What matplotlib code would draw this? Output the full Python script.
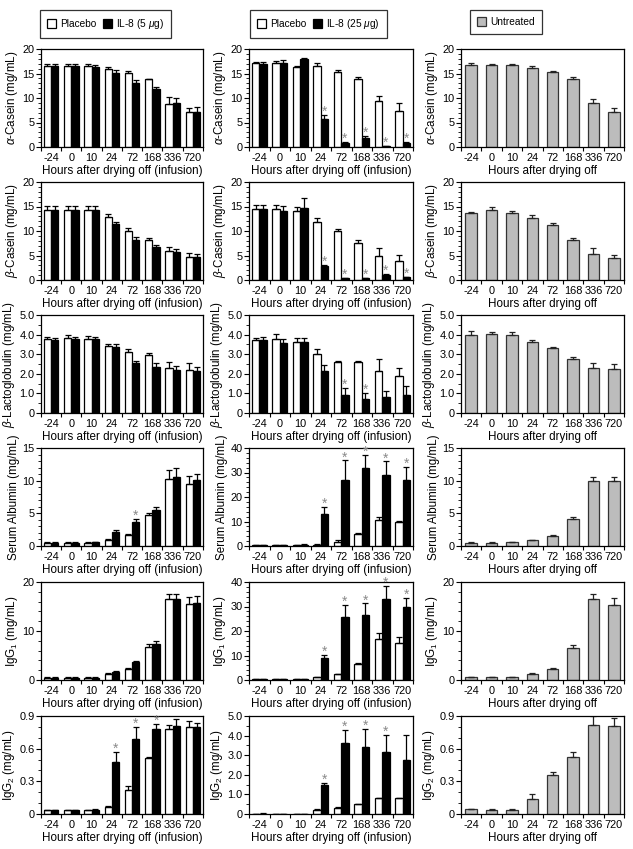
import matplotlib
matplotlib.use("Agg")
import matplotlib.pyplot as plt
import numpy as np
from matplotlib.patches import Patch
from matplotlib.ticker import MultipleLocator, FixedLocator

plt.rcParams['font.family'] = ['Liberation Sans', 'DejaVu Sans']
plt.rcParams['mathtext.fontset'] = 'custom'
plt.rcParams['mathtext.rm'] = 'Liberation Sans'
plt.rcParams['mathtext.it'] = 'Liberation Sans:italic'

hours = ["-24", "0", "10", "24", "72", "168", "336", "720"]

# ---------- Column 1: Placebo vs IL-8 (5 ug) ----------
c1_acas_p = [16.6, 16.6, 16.6, 16.0, 15.2, 13.8, 8.8, 7.1]
c1_acas_p_e = [0.3, 0.3, 0.3, 0.4, 0.3, 0.1, 1.5, 0.8]
c1_acas_t = [16.6, 16.6, 16.4, 15.1, 13.1, 11.8, 8.9, 7.2]
c1_acas_t_e = [0.3, 0.3, 0.3, 0.6, 0.5, 0.5, 1.1, 0.9]

c1_bcas_p = [14.3, 14.3, 14.3, 12.8, 10.1, 8.2, 6.0, 4.6]
c1_bcas_p_e = [0.8, 0.8, 0.8, 0.7, 0.5, 0.3, 0.7, 0.9]
c1_bcas_t = [14.3, 14.3, 14.3, 11.4, 8.1, 6.8, 5.8, 4.6]
c1_bcas_t_e = [0.8, 0.8, 0.8, 0.5, 0.6, 0.4, 0.6, 0.8]

c1_blg_p = [3.80, 3.85, 3.80, 3.43, 3.12, 2.98, 2.30, 2.20]
c1_blg_p_e = [0.08, 0.12, 0.15, 0.08, 0.12, 0.10, 0.32, 0.37]
c1_blg_t = [3.75, 3.78, 3.78, 3.38, 2.55, 2.35, 2.18, 2.12]
c1_blg_t_e = [0.10, 0.10, 0.10, 0.12, 0.08, 0.22, 0.22, 0.22]

c1_sa_p = [0.5, 0.45, 0.5, 0.9, 1.7, 4.8, 10.2, 9.5]
c1_sa_p_e = [0.15, 0.10, 0.15, 0.15, 0.2, 0.3, 1.5, 1.2]
c1_sa_t = [0.45, 0.45, 0.55, 2.1, 3.7, 5.5, 10.6, 10.1]
c1_sa_t_e = [0.1, 0.1, 0.1, 0.4, 0.5, 0.4, 1.3, 0.9]

c1_g1_p = [0.5, 0.5, 0.5, 1.3, 2.3, 6.8, 16.6, 15.6]
c1_g1_p_e = [0.1, 0.1, 0.1, 0.1, 0.2, 0.6, 1.0, 1.3]
c1_g1_t = [0.5, 0.5, 0.5, 1.6, 3.7, 7.4, 16.6, 15.8]
c1_g1_t_e = [0.1, 0.1, 0.1, 0.2, 0.2, 0.5, 1.0, 1.3]

c1_g2_p = [0.035, 0.035, 0.035, 0.06, 0.22, 0.51, 0.78, 0.80]
c1_g2_p_e = [0.005, 0.005, 0.005, 0.01, 0.035, 0.01, 0.04, 0.05]
c1_g2_t = [0.035, 0.035, 0.04, 0.48, 0.69, 0.78, 0.81, 0.80]
c1_g2_t_e = [0.005, 0.005, 0.005, 0.09, 0.11, 0.045, 0.06, 0.04]

# ---------- Column 2: Placebo vs IL-8 (25 ug) ----------
c2_acas_p = [17.1, 17.2, 16.4, 16.6, 15.4, 13.8, 9.4, 7.4]
c2_acas_p_e = [0.3, 0.4, 0.1, 0.5, 0.4, 0.4, 1.0, 1.6]
c2_acas_t = [17.0, 17.2, 17.9, 5.8, 0.8, 1.8, 0.2, 0.8]
c2_acas_t_e = [0.3, 0.6, 0.2, 0.8, 0.3, 0.5, 0.1, 0.2]

c2_bcas_p = [14.4, 14.4, 14.1, 11.9, 10.0, 7.6, 5.0, 3.8]
c2_bcas_p_e = [1.0, 1.0, 0.8, 0.8, 0.4, 0.5, 1.6, 1.4]
c2_bcas_t = [14.4, 14.0, 14.6, 2.9, 0.4, 0.4, 1.0, 0.6]
c2_bcas_t_e = [1.0, 1.1, 2.2, 0.2, 0.1, 0.1, 0.2, 0.1]

c2_blg_p = [3.70, 3.80, 3.62, 3.02, 2.62, 2.58, 2.15, 1.88]
c2_blg_p_e = [0.15, 0.25, 0.20, 0.25, 0.03, 0.08, 0.60, 0.40]
c2_blg_t = [3.72, 3.58, 3.60, 2.15, 0.92, 0.72, 0.82, 0.92]
c2_blg_t_e = [0.15, 0.20, 0.22, 0.32, 0.38, 0.30, 0.32, 0.45]

c2_sa_p = [0.4, 0.4, 0.4, 0.6, 1.8, 5.0, 10.6, 9.7]
c2_sa_p_e = [0.1, 0.1, 0.1, 0.2, 0.5, 0.2, 1.3, 0.6]
c2_sa_t = [0.3, 0.3, 0.6, 13.0, 27.0, 31.8, 28.8, 27.0]
c2_sa_t_e = [0.1, 0.1, 0.1, 3.0, 8.0, 5.3, 5.8, 5.2]

c2_g1_p = [0.4, 0.4, 0.5, 1.2, 2.3, 6.7, 16.8, 15.2]
c2_g1_p_e = [0.1, 0.1, 0.1, 0.1, 0.2, 0.3, 2.3, 2.5]
c2_g1_t = [0.4, 0.4, 0.5, 8.8, 25.6, 26.5, 33.0, 29.6]
c2_g1_t_e = [0.1, 0.1, 0.1, 1.5, 5.2, 4.8, 5.4, 3.8]

c2_g2_p = [0.02, 0.01, 0.01, 0.22, 0.33, 0.50, 0.80, 0.80]
c2_g2_p_e = [0.005, 0.005, 0.005, 0.03, 0.04, 0.03, 0.04, 0.04]
c2_g2_t = [0.02, 0.01, 0.01, 1.48, 3.60, 3.40, 3.18, 2.76]
c2_g2_t_e = [0.01, 0.005, 0.005, 0.12, 0.68, 0.95, 0.85, 1.25]

# ---------- Column 3: Untreated ----------
c3_acas = [16.8, 16.7, 16.7, 16.2, 15.3, 13.8, 8.9, 7.2]
c3_acas_e = [0.4, 0.3, 0.3, 0.3, 0.2, 0.4, 0.9, 0.7]
c3_bcas = [13.6, 14.2, 13.6, 12.6, 11.2, 8.2, 5.4, 4.4]
c3_bcas_e = [0.3, 0.8, 0.5, 0.6, 0.5, 0.3, 1.1, 0.8]
c3_blg = [4.00, 4.05, 4.00, 3.60, 3.30, 2.75, 2.28, 2.27]
c3_blg_e = [0.18, 0.07, 0.15, 0.13, 0.08, 0.12, 0.25, 0.23]
c3_sa = [0.5, 0.45, 0.55, 0.9, 1.5, 4.2, 10.0, 9.9]
c3_sa_e = [0.05, 0.1, 0.1, 0.05, 0.2, 0.3, 0.6, 0.6]
c3_g1 = [0.6, 0.6, 0.6, 1.3, 2.3, 6.6, 16.6, 15.3]
c3_g1_e = [0.1, 0.05, 0.1, 0.1, 0.2, 0.5, 1.0, 1.5]
c3_g2 = [0.045, 0.04, 0.04, 0.14, 0.36, 0.52, 0.82, 0.81]
c3_g2_e = [0.005, 0.005, 0.005, 0.04, 0.025, 0.045, 0.08, 0.07]

# significance markers (indices of IL-8 bars with asterisk)
c1_sig = {"sa": [4], "g2": [3, 4, 5]}
c2_sig = {"acas": [3, 4, 5, 6, 7], "bcas": [3, 4, 5, 6, 7], "blg": [4, 5],
          "sa": [3, 4, 5, 6, 7], "g1": [3, 4, 5, 6, 7], "g2": [3, 4, 5, 6]}

row_keys = ["acas", "bcas", "blg", "sa", "g1", "g2"]
ylabels = [r"$\alpha$-Casein (mg/mL)", r"$\beta$-Casein (mg/mL)",
           r"$\beta$-Lactoglobulin (mg/mL)", "Serum Albumin (mg/mL)",
           r"IgG$_1$ (mg/mL)", r"IgG$_2$ (mg/mL)"]

col1 = {"acas": (c1_acas_p, c1_acas_p_e, c1_acas_t, c1_acas_t_e),
        "bcas": (c1_bcas_p, c1_bcas_p_e, c1_bcas_t, c1_bcas_t_e),
        "blg": (c1_blg_p, c1_blg_p_e, c1_blg_t, c1_blg_t_e),
        "sa": (c1_sa_p, c1_sa_p_e, c1_sa_t, c1_sa_t_e),
        "g1": (c1_g1_p, c1_g1_p_e, c1_g1_t, c1_g1_t_e),
        "g2": (c1_g2_p, c1_g2_p_e, c1_g2_t, c1_g2_t_e)}
col2 = {"acas": (c2_acas_p, c2_acas_p_e, c2_acas_t, c2_acas_t_e),
        "bcas": (c2_bcas_p, c2_bcas_p_e, c2_bcas_t, c2_bcas_t_e),
        "blg": (c2_blg_p, c2_blg_p_e, c2_blg_t, c2_blg_t_e),
        "sa": (c2_sa_p, c2_sa_p_e, c2_sa_t, c2_sa_t_e),
        "g1": (c2_g1_p, c2_g1_p_e, c2_g1_t, c2_g1_t_e),
        "g2": (c2_g2_p, c2_g2_p_e, c2_g2_t, c2_g2_t_e)}
col3 = {"acas": (c3_acas, c3_acas_e), "bcas": (c3_bcas, c3_bcas_e),
        "blg": (c3_blg, c3_blg_e), "sa": (c3_sa, c3_sa_e),
        "g1": (c3_g1, c3_g1_e), "g2": (c3_g2, c3_g2_e)}

# y-axis specs: (ymax, major, minor, fmt)
yspec_side = {"acas": (20, 5, 1, "{:g}"), "bcas": (20, 5, 1, "{:g}"),
              "blg": (5.0, 1.0, 0.5, "{:.1f}"), "sa": (15, 5, 1, "{:g}"),
              "g1": (20, 10, 2, "{:g}"), "g2": (0.9, 0.3, 0.1, "{:.1f}")}
yspec_mid = {"acas": (20, 5, 1, "{:g}"), "bcas": (20, 5, 1, "{:g}"),
             "blg": (5.0, 1.0, 0.5, "{:.1f}"), "sa": (40, 10, 2, "{:g}"),
             "g1": (40, 10, 2, "{:g}"), "g2": (5.0, 1.0, 0.5, "{:.1f}")}

W, H = 633, 849
fig = plt.figure(figsize=(W / 100, H / 100), dpi=100)

col_lefts = [41, 249, 461]
col_widths = [162, 164, 163]
row_tops = [49, 182, 315, 448, 582, 716]
ax_h = 98

x = np.arange(len(hours))
TICK_FS = 7.9
LBL_FS = 8.4
STAR_COLOR = "#8a8a8a"


def style_axis(ax, spec, xlabel):
    ymax, major, minor, fmt = spec
    ax.set_xlim(-0.5, len(hours) - 0.5)
    ax.set_ylim(0, ymax)
    ax.set_xticks(x)
    ax.set_xticklabels(hours, fontsize=TICK_FS)
    ax.tick_params(axis="x", which="major", length=0, pad=4)
    ax.xaxis.set_minor_locator(FixedLocator(np.arange(-0.5, len(hours), 1.0)))
    ax.tick_params(axis="x", which="minor", length=3, width=0.8, direction="out")
    yt = np.arange(0, ymax + major / 2, major)
    ax.set_yticks(yt)
    ax.set_yticklabels(["0" if abs(v) < 1e-9 else fmt.format(v) for v in yt], fontsize=TICK_FS)
    ax.yaxis.set_minor_locator(MultipleLocator(minor))
    ax.tick_params(axis="y", which="major", length=3.5, width=0.8, pad=1)
    ax.tick_params(axis="y", which="minor", length=2, width=0.6)
    for s in ax.spines.values():
        s.set_linewidth(0.9)
    ax.set_xlabel(xlabel, fontsize=LBL_FS, labelpad=2)


def star(ax, xpos, top):
    # asterisk just above the error-bar cap
    ax.annotate("*", xy=(xpos, top), xytext=(0, -0.8), textcoords="offset points",
                ha="center", va="baseline", fontsize=10, color=STAR_COLOR,
                annotation_clip=False, zorder=5)


bw = 0.36
for r, key in enumerate(row_keys):
    bottom_px = row_tops[r] + ax_h
    for c, (data, sig, spec) in enumerate([(col1, c1_sig, yspec_side), (col2, c2_sig, yspec_mid)]):
        ax = fig.add_axes([col_lefts[c] / W, 1 - bottom_px / H, col_widths[c] / W, ax_h / H])
        p, pe, t, te = data[key]
        ek = dict(elinewidth=0.9, capsize=2.3, capthick=0.9, ecolor="black")
        ax.bar(x - bw / 2, p, bw, color="white", edgecolor="black", linewidth=0.9,
               yerr=[np.zeros(len(p)), pe], error_kw=ek, zorder=2)
        ax.bar(x + bw / 2, t, bw, color="black", edgecolor="black", linewidth=0.9,
               yerr=[np.zeros(len(t)), te], error_kw=ek, zorder=2)
        for i in sig.get(key, []):
            star(ax, x[i] + bw / 2, t[i] + te[i])
        style_axis(ax, spec[key], "Hours after drying off (infusion)")
        ax.set_ylabel(ylabels[r], fontsize=LBL_FS, labelpad=2)
    ax = fig.add_axes([col_lefts[2] / W, 1 - bottom_px / H, col_widths[2] / W, ax_h / H])
    v, ve = col3[key]
    ax.bar(x, v, 0.56, color="#bcbcbc", edgecolor="#333333", linewidth=0.9,
           yerr=[np.zeros(len(v)), ve],
           error_kw=dict(elinewidth=0.9, capsize=2.3, capthick=0.9, ecolor="#222222"), zorder=2)
    style_axis(ax, yspec_side[key], "Hours after drying off")
    ax.set_ylabel(ylabels[r], fontsize=LBL_FS, labelpad=2)

leg_specs = [
    (40, [Patch(facecolor="white", edgecolor="black", linewidth=0.9),
          Patch(facecolor="black", edgecolor="black", linewidth=0.9)],
     ["Placebo", r"IL-8 (5 $\mu$g)"]),
    (250, [Patch(facecolor="white", edgecolor="black", linewidth=0.9),
           Patch(facecolor="black", edgecolor="black", linewidth=0.9)],
     ["Placebo", r"IL-8 (25 $\mu$g)"]),
    (470, [Patch(facecolor="#bcbcbc", edgecolor="#333333", linewidth=0.9)],
     ["Untreated"]),
]
for lx, handles, labels in leg_specs:
    leg = fig.legend(handles, labels, loc="upper left",
                     bbox_to_anchor=(lx / W, 1 - 10 / H), ncol=len(labels),
                     fontsize=7.3, frameon=True, fancybox=False,
                     handlelength=0.9, handleheight=0.9, handletextpad=0.4,
                     columnspacing=0.6, borderpad=0.7, borderaxespad=0)
    fr = leg.get_frame()
    fr.set_edgecolor("black")
    fr.set_linewidth(0.9)

fig.savefig("out.png", dpi=100)
